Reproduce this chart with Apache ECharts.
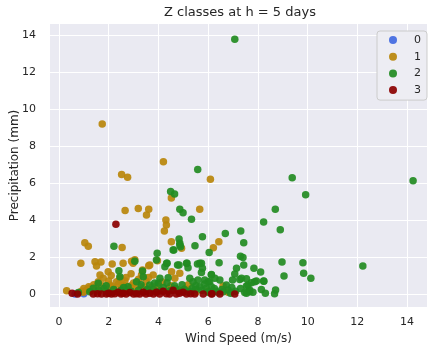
<!DOCTYPE html>
<html>
<head>
<meta charset="utf-8">
<script src="https://cdn.jsdelivr.net/npm/echarts@6/dist/echarts.min.js"></script>
<style>html,body{margin:0;padding:0;background:#fff}#c{width:428px;height:345px}</style>
</head>
<body>
<div id="c"></div>
<script>
const titleText = 'Z classes at h = 5 days';
const xName = 'Wind Speed (m/s)';
const yName = 'Precipitation (mm)';
const classNames = ['0', '1', '2', '3'];
const xTicks = [0, 2, 4, 6, 8, 10, 12, 14];
const yTicks = [0, 2, 4, 6, 8, 10, 12, 14];

const class0 = [[0.65, 0.0], [1.0, 0.02]];

const class1 = [
  [1.74, 9.2], [4.2, 7.15], [2.52, 6.47], [2.76, 6.32], [6.09, 6.2], [4.52, 5.19], [5.66, 4.59],
  [2.66, 4.52], [3.19, 4.63], [3.61, 4.59], [3.52, 4.27], [4.3, 4.0], [4.32, 3.73], [4.24, 3.41],
  [4.52, 2.83], [4.93, 2.47], [6.21, 2.5], [6.43, 2.83], [1.04, 2.77], [1.18, 2.59], [2.54, 2.52],
  [3.05, 1.85], [0.88, 1.66], [1.45, 1.75], [1.69, 1.73], [1.51, 1.51], [2.14, 1.62], [2.58, 1.66],
  [1.98, 1.21], [3.61, 1.53], [3.96, 1.8], [2.45, 0.85], [2.92, 1.78], [2.98, 1.66], [3.36, 1.3],
  [3.65, 1.57], [3.79, 1.03], [3.32, 1.03], [4.86, 1.12], [4.53, 1.21], [4.66, 0.85], [1.65, 1.03],
  [1.78, 0.85], [1.58, 0.66], [2.05, 0.49], [2.32, 0.66], [2.58, 0.49], [1.11, 0.22], [0.98, 0.1],
  [1.24, 0.31], [0.31, 0.18], [6.6, 0.43], [5.1, 0.3], [2.2, 0.3], [2.8, 0.2], [3.0, 0.6], [3.5, 0.7],
  [4.0, 0.5], [1.9, 0.2], [2.9, 1.1], [2.7, 0.9], [1.4, 0.5], [2.1, 1.0], [4.4, 0.3], [3.3, 0.4],
  [1.3, 0.2], [1.5, 0.35], [1.6, 0.15], [1.75, 0.45], [1.9, 0.3], [2.0, 0.7], [2.15, 0.4], [2.25, 0.15],
  [2.4, 0.55], [2.5, 0.3], [2.65, 0.7], [2.75, 0.25], [2.9, 0.45], [3.05, 0.3], [3.2, 0.8], [3.45, 0.35],
  [3.6, 0.9], [3.75, 0.4], [3.9, 0.2], [4.15, 0.65], [4.5, 0.45], [4.8, 0.2], [5.2, 0.5], [5.5, 0.1],
  [6.0, 0.15], [6.8, 0.1], [1.2, 0.4], [0.9, 0.15], [1.0, 0.3]
];

const class2 = [
  [7.07, 13.78], [5.58, 6.74], [9.38, 6.29], [14.24, 6.12], [9.92, 5.37], [4.49, 5.55], [4.65, 5.41],
  [4.86, 4.58], [4.99, 4.39], [8.7, 4.59], [5.33, 4.04], [5.77, 3.1], [6.69, 3.28], [4.86, 2.65],
  [4.62, 2.38], [5.47, 2.61], [6.04, 2.25], [2.21, 2.59], [3.95, 2.2], [3.05, 1.78], [2.41, 1.26],
  [3.36, 1.24], [4.35, 1.66], [4.77, 1.57], [5.13, 1.66], [5.57, 1.62], [5.73, 1.66], [6.44, 1.69],
  [8.23, 3.89], [8.9, 3.48], [7.31, 3.41], [7.43, 2.77], [7.3, 2.05], [7.4, 1.98], [7.43, 1.57],
  [8.97, 1.73], [9.81, 1.69], [12.22, 1.51], [7.84, 1.39], [8.11, 1.19], [8.24, 0.69], [9.05, 0.97],
  [9.84, 1.12], [10.13, 0.86], [7.14, 1.39], [7.07, 1.08], [6.98, 0.76], [7.27, 0.79], [7.54, 0.83],
  [7.74, 0.61], [7.94, 0.7], [7.54, 0.43], [7.67, 0.22], [7.54, 0.05], [8.14, 0.25], [8.71, 0.22],
  [8.67, 0.02], [7.34, 0.85], [7.6, 0.49], [7.87, 0.66], [8.23, 0.7], [7.47, 0.09], [7.67, 0.12],
  [6.47, 0.76], [6.73, 0.49], [6.8, 0.22], [6.6, 0.12], [6.13, 1.06], [6.27, 0.85], [6.06, 0.66],
  [4.83, 2.97], [4.86, 2.74], [4.59, 2.38], [4.89, 2.56], [3.92, 1.84], [4.33, 1.66], [4.26, 1.48],
  [4.83, 1.57], [5.15, 1.66], [5.19, 1.42], [5.66, 1.66], [5.77, 1.39], [5.73, 1.17], [6.13, 1.03],
  [3.39, 0.94], [4.06, 0.85], [4.39, 0.88], [3.99, 0.58], [5.26, 0.85], [5.39, 0.66], [5.59, 0.76],
  [5.86, 0.76], [6.0, 0.66], [3.12, 0.66], [3.65, 0.49], [5.66, 0.39], [5.93, 0.31], [6.13, 0.39],
  [2.45, 0.94], [1.58, 0.58], [1.38, 0.31], [1.24, 0.12], [2.78, 0.39], [0.78, 0.09],
  [3.2, 0.2], [3.5, 0.15], [3.8, 0.25], [4.1, 0.2], [4.4, 0.15], [4.7, 0.3], [5.0, 0.2], [5.3, 0.15],
  [5.5, 0.25], [6.3, 0.15], [6.9, 0.05], [2.5, 0.2], [2.0, 0.1], [1.8, 0.3],
  [2.6, 0.35], [2.9, 0.15], [3.3, 0.5], [3.55, 0.25], [3.85, 0.6], [4.0, 0.15], [4.2, 0.35], [4.35, 0.6],
  [4.5, 0.2], [4.65, 0.45], [4.8, 0.15], [4.95, 0.5], [5.05, 0.25], [5.2, 0.1], [5.35, 0.3], [5.5, 0.45],
  [5.75, 0.2], [5.85, 0.55], [6.0, 0.1], [6.25, 0.3], [6.4, 0.1], [6.55, 0.25], [6.95, 0.35], [7.1, 0.15],
  [7.3, 0.3], [7.8, 0.1], [8.3, 0.05], [1.6, 0.2], [1.9, 0.45], [2.2, 0.25]
];

const class3 = [
  [2.29, 3.78],
  [0.53, 0.05], [0.75, 0.0], [1.38, 0.0], [1.55, 0.02], [1.71, 0.0], [1.91, 0.0], [2.0, 0.05],
  [2.11, 0.0], [2.25, 0.02], [2.38, 0.1], [2.5, 0.0], [2.58, 0.05], [2.7, 0.0], [2.85, 0.08],
  [3.0, 0.0], [3.12, 0.02], [3.25, 0.0], [3.39, 0.1], [3.5, 0.0], [3.65, 0.05], [3.8, 0.0],
  [3.92, 0.1], [4.05, 0.0], [4.19, 0.15], [4.32, 0.02], [4.45, 0.0], [4.59, 0.2], [4.72, 0.0],
  [4.85, 0.05], [4.99, 0.1], [5.13, 0.0], [5.3, 0.02], [5.46, 0.0], [5.8, 0.0], [6.13, 0.0],
  [6.16, 0.02], [6.47, 0.0], [7.07, 0.0]
];

const colors = ['#4169E1', '#B8860B', '#228B22', '#8B0000'];
const allData = [class0, class1, class2, class3];

const chart = echarts.init(document.getElementById('c'), null, {renderer: 'canvas'});
const txt = '#262626';
chart.setOption({
  animation: false,
  backgroundColor: '#ffffff',
  graphic: [{
    type: 'text', x: 240, y: 13, z: 10,
    style: {text: titleText, align: 'center', verticalAlign: 'middle', fontSize: 13, fill: txt, fontFamily: 'DejaVu Sans'}
  }],
  grid: {left: 50, right: 1, top: 24, bottom: 38, show: true, backgroundColor: '#EAEAF2', borderWidth: 0,
         containLabel: false, outerBoundsMode: 'none'},
  legend: {
    orient: 'vertical', left: 377, top: 31,
    padding: [3, 6, 4, 12], itemGap: 4.7, itemWidth: 8, itemHeight: 8,
    backgroundColor: '#EDEDF3', borderColor: '#CCCCCC', borderWidth: 1, borderRadius: 3,
    icon: 'circle',
    textStyle: {fontSize: 11, color: txt, fontFamily: 'DejaVu Sans', padding: [0, 0, 0, 12], lineHeight: 12},
    data: classNames
  },
  xAxis: {
    type: 'value', min: -0.36, max: 14.8,
    name: xName, nameLocation: 'middle', nameGap: 26, nameMoveOverlap: false,
    nameTextStyle: {fontSize: 12, color: txt, fontFamily: 'DejaVu Sans'},
    axisLine: {show: false}, axisTick: {show: false, customValues: xTicks},
    axisLabel: {customValues: xTicks, fontSize: 11, color: txt, margin: 10, fontFamily: 'DejaVu Sans'},
    splitLine: {show: true, lineStyle: {color: '#ffffff', width: 1}}
  },
  yAxis: {
    type: 'value', min: -0.7, max: 14.6,
    name: yName, nameLocation: 'middle', nameGap: 29, nameMoveOverlap: false,
    nameTextStyle: {fontSize: 12, color: txt, fontFamily: 'DejaVu Sans'},
    axisLine: {show: false}, axisTick: {show: false, customValues: yTicks},
    axisLabel: {customValues: yTicks, fontSize: 11, color: txt, margin: 14, fontFamily: 'DejaVu Sans'},
    splitLine: {show: true, lineStyle: {color: '#ffffff', width: 1}}
  },
  series: classNames.map((n, i) => ({
    name: n, type: 'scatter', data: allData[i], symbol: 'circle', symbolSize: 7.5,
    itemStyle: {color: colors[i], opacity: 0.92},
    emphasis: {disabled: true}
  }))
});
</script>
</body>
</html>
